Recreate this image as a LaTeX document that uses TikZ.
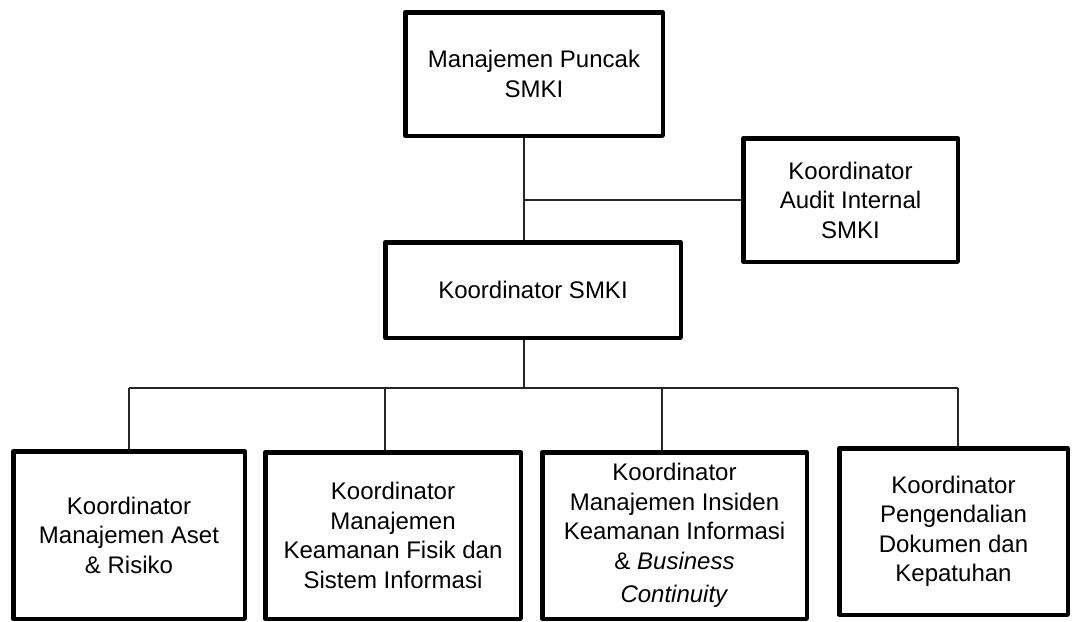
\documentclass[tikz,border=0pt]{standalone}
\usepackage{fontspec}
\setmainfont{Liberation Sans}
\begin{document}
\begin{tikzpicture}[x=1pt,y=-1pt,
  orgbox/.style={draw=black,line width=4.5pt,line join=round,fill=white,
    align=center,inner sep=0pt,font=\fontsize{24}{29.5}\selectfont},
  link/.style={draw=black!85,line width=1.4pt}]
\useasboundingbox[fill=white] (0,0) rectangle (1073,621);

\node[orgbox,minimum width=257.5pt,minimum height=123.5pt] (top) at (534,74)
  {Manajemen Puncak\\SMKI};
\node[orgbox,minimum width=214.5pt,minimum height=123.5pt] (audit) at (850.5,200)
  {Koordinator\\Audit Internal\\SMKI};
\node[orgbox,minimum width=295.5pt,minimum height=95.5pt] (smki) at (533,290)
  {Koordinator SMKI};

\node[orgbox,minimum width=231.5pt,minimum height=167.5pt] (b1) at (129,535)
  {Koordinator\\Manajemen Aset\\\& Risiko};
\node[orgbox,minimum width=255.5pt,minimum height=166.5pt] (b2) at (393,535.5)
  {Koordinator\\Manajemen\\Keamanan Fisik dan\\Sistem Informasi};
\node[orgbox,minimum width=264.5pt,minimum height=166.5pt] (b3) at (674.5,535.5)
  {Koordinator\\Manajemen Insiden\\Keamanan Informasi\\\& \textit{Business}\\[4pt]\textit{Continuity}};
\node[orgbox,minimum width=228.5pt,minimum height=166.5pt] (b4) at (953.5,531.5)
  {Koordinator\\Pengendalian\\Dokumen dan\\Kepatuhan};

\coordinate (j1) at (524,200);
\coordinate (bus) at (524,388);
\coordinate (d1) at (129,388);
\coordinate (d2) at (385,388);
\coordinate (d3) at (662,388);
\coordinate (d4) at (958,388);

\draw[link] (j1 |- top.south) -- (j1 |- smki.north);
\draw[link] (j1) -- (audit.west |- j1);
\draw[link] (bus |- smki.south) -- (bus);
\draw[link] (d1) -- (d4);
\draw[link] (d1) -- (d1 |- b1.north);
\draw[link] (d2) -- (d2 |- b2.north);
\draw[link] (d3) -- (d3 |- b3.north);
\draw[link] (d4) -- (d4 |- b4.north);
\end{tikzpicture}
\end{document}
